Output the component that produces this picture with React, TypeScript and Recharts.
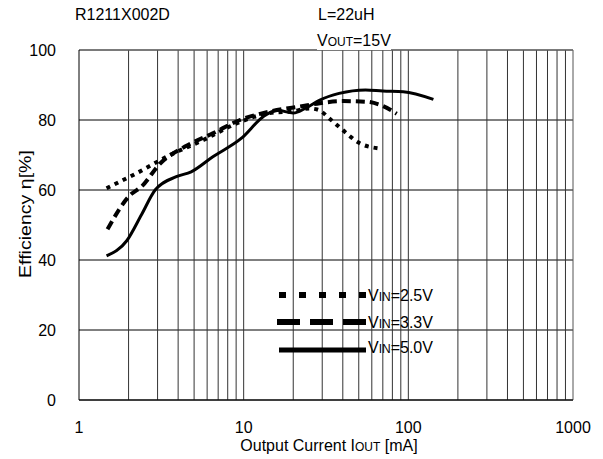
import React from "react";
import { LineChart, Line, XAxis, YAxis, CartesianGrid, ReferenceLine } from "recharts";

const xTicks = [1, 10, 100, 1000];
const yTicks = [0, 20, 40, 60, 80, 100];
const minorX = [2, 3, 4, 5, 6, 7, 8, 9, 20, 30, 40, 50, 60, 70, 80, 90, 200, 300, 400, 500, 600, 700, 800, 900, 10, 100];

const v25X = [1.47, 2.24, 3.57, 5.7, 9.05, 14.4, 20, 25, 28, 34, 40, 51, 66];
const v25Y = [60.5, 64.8, 70, 74.3, 79, 82, 82.5, 83.3, 83, 80, 77.1, 73.3, 71.9];
const v33X = [1.49, 2.04, 2.4, 3.1, 4.4, 6.5, 9.5, 14.4, 23, 29, 40, 56, 70, 85];
const v33Y = [48.8, 58.5, 61, 67.5, 72.4, 76.2, 80, 82.4, 84, 84.8, 85.4, 85.2, 84, 81.8];
const v50X = [1.47, 1.95, 2.4, 2.9, 3.9, 4.8, 6.5, 9.7, 13.2, 16, 20, 24, 29, 38, 55, 70, 93, 142];
const v50Y = [41.2, 45.5, 53, 60, 63.8, 65.2, 69.5, 74.8, 81, 82.8, 82, 83.5, 85.7, 87.6, 88.6, 88.3, 88.1, 85.9];

const toData = (xs: number[], ys: number[]) => xs.map((x, i) => ({ x, y: ys[i] }));
const d25 = toData(v25X, v25Y);
const d33 = toData(v33X, v33Y);
const d50 = toData(v50X, v50Y);

const FONT = "'Liberation Sans', Arial, sans-serif";

export default function App() {
  return (
    <div style={{ position: "absolute", left: 0, top: 0, width: 603, height: 459, background: "#fff", fontFamily: FONT }}>
      <LineChart width={603} height={459} margin={{ top: 50, left: 19, right: 30, bottom: 19 }}>
        <CartesianGrid horizontal={true} vertical={false} stroke="#000" strokeWidth={1} />
        <XAxis
          dataKey="x"
          type="number"
          scale="log"
          domain={[1, 1000]}
          ticks={xTicks}
          allowDataOverflow
          height={40}
          axisLine={{ stroke: "#000" }}
          tickLine={false}
          tick={{ fill: "#000", fontSize: 16, fontFamily: FONT }}
          tickMargin={16}
          interval={0}
        />
        <YAxis
          type="number"
          domain={[0, 100]}
          ticks={yTicks}
          width={60}
          axisLine={{ stroke: "#000" }}
          tickLine={false}
          tick={{ fill: "#000", fontSize: 16, fontFamily: FONT }}
          tickMargin={17}
          interval={0}
        />
        {minorX.map((v) => (
          <ReferenceLine key={v} x={v} stroke="#333" strokeWidth={1} />
        ))}
        <ReferenceLine x={1000} stroke="#555" strokeWidth={1} />
        <ReferenceLine y={100} stroke="#777" strokeWidth={1} />
        <Line data={d25} dataKey="y" type="monotone" stroke="#000" strokeWidth={4} strokeDasharray="4 5" dot={false} isAnimationActive={false} />
        <Line data={d33} dataKey="y" type="monotone" stroke="#000" strokeWidth={4} strokeDasharray="9 5" dot={false} isAnimationActive={false} />
        <Line data={d50} dataKey="y" type="monotone" stroke="#000" strokeWidth={3} dot={false} isAnimationActive={false} />
      </LineChart>

      <div style={{ position: "absolute", left: 75, top: 6, fontSize: 16, color: "#000" }}>R1211X002D</div>
      <div style={{ position: "absolute", left: 318, top: 6, fontSize: 16, color: "#000" }}>L=22uH</div>
      <div style={{ position: "absolute", left: 317, top: 32, fontSize: 16, color: "#000", background: "#fff" }}>
        V<span style={{ fontSize: 12 }}>OUT</span>=15V
      </div>
      <div style={{ position: "absolute", left: 209, top: 437, width: 240, textAlign: "center", fontSize: 16, color: "#000" }}>
        Output Current I<span style={{ fontSize: 12 }}>OUT</span> [mA]
      </div>
      <div
        style={{
          position: "absolute",
          left: 26,
          top: 214,
          fontSize: 17,
          color: "#000",
          whiteSpace: "nowrap",
          transform: "translate(-50%, -50%) rotate(-90deg) scaleX(1.15)",
        }}
      >
        Efficiency η[%]
      </div>

      <svg style={{ position: "absolute", left: 0, top: 0 }} width={603} height={459}>
        <line x1={279} y1={295} x2={366} y2={295} stroke="#000" strokeWidth={6} strokeDasharray="7 13" />
        <line x1={277} y1={322} x2={366} y2={322} stroke="#000" strokeWidth={6} strokeDasharray="23 10" />
        <line x1={279} y1={350} x2={366} y2={350} stroke="#000" strokeWidth={5} />
        <text x={368} y={301} fontSize={16} fontFamily={FONT} fill="#000">V<tspan fontSize={12}>IN</tspan>=2.5V</text>
        <text x={368} y={328} fontSize={16} fontFamily={FONT} fill="#000">V<tspan fontSize={12}>IN</tspan>=3.3V</text>
        <text x={368} y={353} fontSize={16} fontFamily={FONT} fill="#000">V<tspan fontSize={12}>IN</tspan>=5.0V</text>
      </svg>
    </div>
  );
}
